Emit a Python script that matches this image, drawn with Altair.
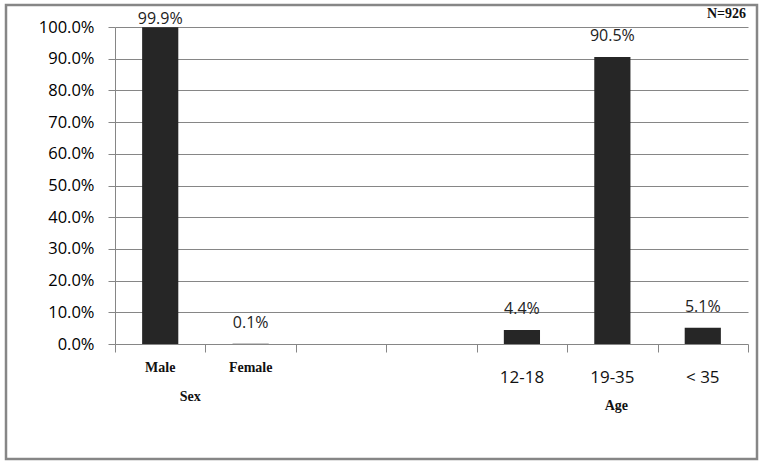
import altair as alt
import pandas as pd

cat_ids = ["Male", "Female", "blank1", "blank2", "12-18", "19-35", "< 35"]
labels = ["Male", "Female", "", "", "12-18", "19-35", "< 35"]
values = [99.9, 0.1, None, None, 4.4, 90.5, 5.1]
groups = ["Sex", "Sex", "none", "none", "Age", "Age", "Age"]
y_ticks = [0, 10, 20, 30, 40, 50, 60, 70, 80, 90, 100]

W, H = 633, 317
GREY = "#868686"
BAR = "#262626"
SANS = "Open Sans"
SERIF = "Liberation Serif"

df = pd.DataFrame({"cat": cat_ids, "label": labels, "value": values, "group": groups})

xscale = alt.Scale(domain=cat_ids, paddingInner=0, paddingOuter=0)
xaxis = alt.Axis(labels=False, title=None, tickBand="extent", ticks=True,
                 tickSize=8, tickColor=GREY, domain=False, grid=False)
yscale = alt.Scale(domain=[0, 100], nice=False)
yaxis = alt.Axis(values=y_ticks, tickCount=11,
                 labelExpr="format(datum.value, '.1f') + '%'",
                 title=None, grid=True, gridColor=GREY, gridOpacity=1,
                 domainColor=GREY, tickColor=GREY, tickSize=7,
                 labelOverlap=False, labelPadding=14, labelFont=SANS,
                 labelFontSize=16.5, labelColor="#000000")


def xenc():
    return alt.X("cat:N", sort=cat_ids, scale=xscale, axis=xaxis)


bars = alt.Chart(df).transform_filter("datum.value != null").mark_bar(
    color=BAR, width=alt.RelativeBandSize(0.4)
).encode(
    x=xenc(),
    y=alt.Y("value:Q", scale=yscale, axis=yaxis),
)

vlabels = alt.Chart(df).transform_filter("datum.value != null").transform_calculate(
    ly="min(datum.value + 4.1, 100)",
    txt="format(datum.value, '.1f') + '%'",
).mark_text(font=SANS, fontSize=16, baseline="bottom", color="#222222").encode(
    x=xenc(),
    y=alt.Y("ly:Q", scale=yscale, axis=yaxis),
    text="txt:N",
)

sex_labels = alt.Chart(df).transform_filter("datum.group == 'Sex'").mark_text(
    font=SERIF, fontWeight="bold", fontSize=14, baseline="middle", color="#111111"
).encode(x=xenc(), y=alt.value(H + 24), text="label:N")

age_labels = alt.Chart(df).transform_filter("datum.group == 'Age'").mark_text(
    font=SANS, fontSize=17, baseline="middle", color="#111111"
).encode(x=xenc(), y=alt.value(H + 34), text="label:N")

sex_title = alt.Chart(pd.DataFrame({"cat": ["Male"], "name": ["Sex"]})).mark_text(
    font=SERIF, fontWeight="bold", fontSize=14, baseline="middle", dx=30, color="#111111"
).encode(x=xenc(), y=alt.value(H + 53), text="name:N")

age_title = alt.Chart(pd.DataFrame({"cat": ["19-35"], "name": ["Age"]})).mark_text(
    font=SERIF, fontWeight="bold", fontSize=14, baseline="middle", dx=4, color="#111111"
).encode(x=xenc(), y=alt.value(H + 62), text="name:N")

n_text = alt.Chart(pd.DataFrame({"t": ["N=926"]})).mark_text(
    font=SERIF, fontWeight="bold", fontSize=14, align="right", baseline="middle", color="#111111"
).encode(x=alt.value(W - 2), y=alt.value(-13), text="t:N")

border = alt.Chart(pd.DataFrame({"t": [1]})).mark_rect(
    fill=None, stroke=GREY, strokeWidth=2.5
).encode(x=alt.value(-109), x2=alt.value(642), y=alt.value(-22), y2=alt.value(432))

chart = alt.layer(bars, vlabels, sex_labels, age_labels, sex_title, age_title, n_text, border).properties(
    width=W, height=H,
    autosize=alt.AutoSizeParams(type="none"),
    padding={"left": 115, "top": 27, "right": 15, "bottom": 118},
    background="white",
).configure_view(stroke=None)

chart.save("out.html", embed_options={"renderer": "svg", "actions": False})
